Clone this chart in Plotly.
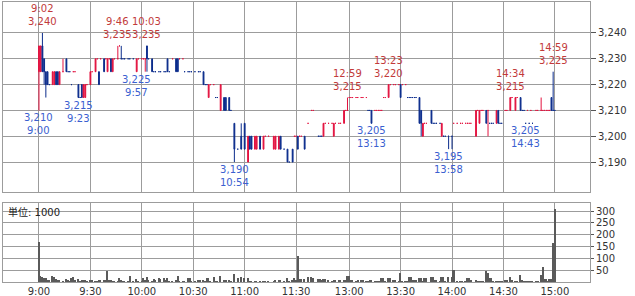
import plotly.graph_objects as go

# ---------------- data (1-minute bars) ----------------
times = [
    "9:00","9:01","9:02","9:03","9:04","9:05","9:06","9:08","9:09","9:10",
    "9:11","9:12","9:14","9:16","9:17","9:18","9:19","9:20","9:21","9:23",
    "9:24","9:25","9:26","9:27","9:28","9:30","9:31","9:33","9:34","9:35",
    "9:36","9:38","9:39","9:40","9:41","9:42","9:43","9:44","9:46","9:47",
    "9:48","9:49","9:50","9:52","9:53","9:55","9:57","9:58","10:00","10:01",
    "10:02","10:03","10:04","10:06","10:07","10:08","10:10","10:11","10:13","10:14",
    "10:15","10:16","10:18","10:20","10:21","10:22","10:24","10:25","10:27","10:28",
    "10:29","10:31","10:33","10:34","10:36","10:37","10:38","10:39","10:40","10:42",
    "10:43","10:44","10:46","10:48","10:49","10:51","10:52","10:54","10:56","10:58",
    "11:00","11:02","11:03","11:04","11:06","11:07","11:09","11:11","11:12","11:14",
    "11:17","11:18","11:20","11:21","11:23","11:25","11:26","11:28","11:29","11:30",
    "12:30","12:31","12:32","12:34","12:36","12:38","12:39","12:42","12:43","12:44",
    "12:45","12:46","12:48","12:50","12:51","12:52","12:54","12:55","12:57","12:58",
    "12:59","13:00","13:01","13:02","13:04","13:05","13:07","13:08","13:10","13:11",
    "13:12","13:13","13:15","13:16","13:17","13:18","13:19","13:20","13:21","13:23",
    "13:24","13:26","13:27","13:29","13:30","13:31","13:33","13:34","13:35","13:36",
    "13:37","13:38","13:39","13:41","13:42","13:43","13:44","13:45","13:48","13:49",
    "13:50","13:51","13:53","13:54","13:55","13:56","13:58","14:00","14:01","14:03",
    "14:05","14:06","14:08","14:09","14:10","14:11","14:14","14:15","14:16","14:17",
    "14:18","14:20","14:21","14:22","14:23","14:24","14:26","14:27","14:28","14:29",
    "14:31","14:32","14:34","14:35","14:37","14:38","14:40","14:41","14:42","14:43",
    "14:44","14:45","14:46","14:47","14:49","14:50","14:52","14:53","14:54","14:55",
    "14:56","14:57","14:58","14:59","15:00",
]
opens = [
    3225,3225,3235,3230,3225,3225,3220,3220,3220,3225,
    3225,3220,3225,3230,3225,3225,3220,3225,3225,3220,
    3215,3220,3215,3215,3220,3220,3225,3225,3230,3225,
    3230,3230,3230,3225,3230,3230,3225,3230,3230,3235,
    3230,3230,3230,3230,3230,3230,3225,3230,3230,3230,
    3230,3235,3230,3230,3225,3225,3225,3225,3225,3225,
    3230,3225,3230,3230,3230,3230,3230,3225,3225,3225,
    3225,3225,3225,3225,3225,3220,3220,3215,3220,3220,
    3215,3215,3210,3215,3215,3215,3210,3205,3195,3200,
    3205,3190,3200,3200,3195,3195,3200,3195,3200,3200,
    3195,3195,3195,3200,3195,3195,3190,3195,3200,3200,
    3200,3200,3200,3200,3205,3210,3210,3200,3200,3200,
    3200,3205,3205,3205,3200,3205,3205,3205,3205,3210,
    3210,3215,3215,3215,3215,3215,3215,3215,3215,3210,
    3210,3210,3210,3210,3210,3210,3210,3215,3215,3215,
    3220,3220,3220,3220,3220,3220,3220,3215,3215,3215,
    3215,3215,3215,3215,3210,3200,3205,3205,3210,3205,
    3205,3205,3205,3200,3200,3200,3200,3200,3205,3205,
    3205,3205,3205,3205,3205,3205,3200,3210,3205,3210,
    3210,3210,3210,3205,3205,3205,3205,3210,3205,3205,
    3210,3210,3210,3215,3210,3215,3215,3210,3210,3205,
    3210,3205,3210,3205,3210,3210,3210,3210,3210,3210,
    3210,3210,3215,3210,3210,
]
highs = [
    3235,3235,3240,3230,3225,3225,3220,3225,3225,3225,
    3225,3225,3230,3230,3225,3225,3220,3225,3225,3220,
    3215,3220,3220,3220,3220,3225,3225,3230,3230,3225,
    3230,3230,3230,3230,3230,3230,3230,3230,3235,3235,
    3235,3230,3230,3230,3230,3230,3230,3230,3230,3230,
    3230,3235,3230,3230,3225,3225,3225,3225,3225,3225,
    3230,3225,3230,3230,3230,3230,3230,3225,3225,3225,
    3225,3225,3225,3225,3225,3220,3220,3220,3220,3220,
    3215,3215,3220,3215,3215,3215,3210,3205,3195,3205,
    3205,3200,3200,3200,3200,3200,3200,3200,3200,3200,
    3200,3200,3200,3200,3195,3195,3190,3195,3200,3200,
    3200,3200,3200,3200,3205,3210,3210,3200,3200,3200,
    3205,3205,3205,3205,3205,3205,3205,3205,3210,3210,
    3215,3215,3215,3215,3215,3215,3215,3215,3215,3210,
    3210,3210,3210,3210,3210,3210,3210,3215,3215,3220,
    3220,3220,3220,3220,3220,3220,3220,3215,3215,3215,
    3215,3215,3215,3215,3210,3205,3205,3205,3210,3205,
    3205,3205,3205,3205,3200,3200,3200,3200,3205,3205,
    3205,3205,3205,3205,3205,3205,3210,3210,3210,3210,
    3210,3210,3210,3205,3205,3205,3210,3210,3205,3205,
    3210,3210,3215,3215,3215,3215,3215,3210,3210,3205,
    3210,3205,3210,3205,3210,3210,3215,3210,3210,3210,
    3210,3210,3215,3225,3210,
]
lows = [
    3210,3225,3225,3220,3215,3220,3220,3220,3220,3220,
    3220,3220,3225,3225,3225,3225,3220,3225,3225,3215,
    3215,3215,3215,3215,3220,3220,3225,3225,3230,3220,
    3230,3225,3230,3225,3230,3225,3225,3230,3230,3235,
    3230,3230,3230,3230,3230,3230,3225,3230,3230,3230,
    3225,3225,3230,3225,3225,3225,3225,3225,3225,3225,
    3225,3225,3230,3225,3225,3230,3230,3225,3225,3225,
    3225,3225,3225,3225,3220,3220,3220,3215,3220,3220,
    3215,3215,3210,3210,3210,3210,3210,3190,3195,3195,
    3195,3190,3195,3195,3195,3195,3195,3195,3200,3200,
    3195,3195,3195,3195,3195,3190,3190,3190,3200,3200,
    3195,3200,3200,3195,3205,3210,3210,3200,3200,3200,
    3200,3205,3205,3205,3200,3205,3205,3205,3205,3210,
    3210,3215,3215,3215,3215,3215,3215,3215,3215,3210,
    3210,3205,3210,3210,3210,3210,3210,3215,3215,3215,
    3220,3220,3220,3220,3215,3220,3220,3215,3215,3215,
    3215,3215,3215,3205,3200,3200,3205,3205,3205,3205,
    3205,3205,3205,3200,3200,3200,3195,3195,3205,3205,
    3205,3205,3205,3205,3205,3205,3200,3210,3205,3210,
    3210,3205,3200,3205,3205,3205,3205,3205,3205,3205,
    3210,3210,3210,3215,3210,3215,3210,3210,3210,3205,
    3210,3205,3210,3205,3210,3210,3210,3210,3210,3210,
    3210,3210,3210,3210,3210,
]
closes = [
    3235,3235,3225,3225,3220,3220,3220,3225,3225,3220,
    3220,3225,3225,3225,3225,3225,3220,3225,3225,3215,
    3215,3215,3220,3220,3220,3225,3225,3230,3230,3220,
    3230,3225,3230,3230,3230,3225,3230,3230,3230,3235,
    3230,3230,3230,3230,3230,3230,3230,3230,3230,3230,
    3230,3230,3230,3225,3225,3225,3225,3225,3225,3225,
    3225,3225,3230,3225,3225,3230,3230,3225,3225,3225,
    3225,3225,3225,3225,3220,3220,3220,3220,3220,3220,
    3215,3215,3220,3210,3210,3210,3210,3195,3195,3195,
    3195,3200,3195,3195,3200,3200,3195,3200,3200,3200,
    3200,3200,3200,3195,3195,3190,3190,3190,3200,3200,
    3195,3200,3200,3195,3205,3210,3210,3200,3200,3200,
    3205,3205,3205,3205,3205,3205,3205,3205,3210,3210,
    3210,3215,3215,3215,3215,3215,3215,3215,3215,3210,
    3210,3205,3210,3210,3210,3210,3210,3215,3215,3220,
    3220,3220,3220,3220,3215,3220,3220,3215,3215,3215,
    3215,3215,3215,3205,3205,3205,3205,3205,3205,3205,
    3205,3205,3205,3205,3200,3200,3200,3200,3205,3205,
    3205,3205,3205,3205,3205,3205,3210,3210,3210,3210,
    3210,3205,3210,3205,3205,3205,3210,3205,3205,3205,
    3210,3210,3215,3215,3215,3215,3210,3210,3210,3205,
    3210,3205,3210,3205,3210,3210,3210,3210,3210,3210,
    3210,3210,3210,3210,3210,
]
volumes = [  # unit: 1000 shares
    170,25,20,18,15,8,5,24,22,12,
    10,8,4,12,10,3,15,20,6,12,
    4,10,8,5,4,5,6,4,3,5,
    6,5,8,48,6,5,4,3,4,17,
    5,4,3,3,27,4,12,4,3,17,
    8,21,5,4,12,8,15,12,15,10,
    17,4,3,5,27,4,3,3,17,17,
    4,3,6,7,7,4,15,15,4,21,
    4,4,27,8,7,6,4,35,18,20,
    18,15,4,3,3,2,2,2,2,2,
    3,6,6,5,3,17,4,5,17,8,
    108,13,13,13,21,21,15,12,12,5,
    12,12,5,4,10,10,10,10,5,5,
    27,27,7,7,4,10,10,10,4,4,
    6,6,3,4,4,3,18,18,4,18,
    18,7,7,4,39,4,4,4,21,21,
    10,10,10,17,17,4,17,17,21,21,
    10,10,3,21,21,3,21,21,52,4,
    4,4,3,17,17,10,10,4,3,3,
    3,46,39,17,17,4,4,4,3,3,
    7,7,21,7,4,3,29,10,4,4,
    3,3,3,4,4,4,31,63,13,13,
    4,13,13,164,307,
]

# high / low callouts
high_times = ["9:02", "9:46", "10:03", "12:59", "13:23", "14:34", "14:59"]
high_prices = [3240, 3235, 3235, 3215, 3220, 3215, 3225]
low_times = ["9:00", "9:23", "9:57", "10:54", "13:13", "13:58", "14:43"]
low_prices = [3210, 3215, 3225, 3190, 3205, 3195, 3205]

tick_times = ["9:00", "9:30", "10:00", "10:30", "11:00", "11:30",
              "13:00", "13:30", "14:00", "14:30", "15:00"]
price_ticks = [3190, 3200, 3210, 3220, 3230, 3240]
volume_ticks = [50, 100, 150, 200, 250, 300]
volume_unit = "単位: 1000"

# ---------------- helpers ----------------
def pos(t):
    h, m = t.split(":")
    mins = int(h) * 60 + int(m) - 540
    return mins if mins <= 150 else mins - 59   # lunch break removed


x = [pos(t) for t in times]

RED = "#e3123f"
BLUE = "#0b2c8c"
RED_TXT = "#c23a3a"
BLUE_TXT = "#3a60d0"
GRID = "#9c9c9c"
FONT = "DejaVu Sans, Noto Sans CJK JP, sans-serif"

fig = go.Figure()
fig.add_trace(go.Candlestick(
    x=x, open=opens, high=highs, low=lows, close=closes,
    xaxis="x", yaxis="y",
    increasing=dict(line=dict(color=RED, width=1), fillcolor=RED),
    decreasing=dict(line=dict(color=BLUE, width=1), fillcolor=BLUE),
    whiskerwidth=0, showlegend=False, hoverinfo="skip",
))
fig.add_trace(go.Bar(
    x=x, y=volumes, xaxis="x2", yaxis="y2", width=0.9,
    marker=dict(color="#5a5a5a", line=dict(width=0)),
    showlegend=False, hoverinfo="skip",
))

annotations = []
for t, p in zip(high_times, high_prices):
    annotations.append(dict(
        x=pos(t), y=p, xref="x", yref="y", text=f"{t}<br>{p:,}",
        showarrow=False, xanchor="center", yanchor="bottom", yshift=4,
        font=dict(color=RED_TXT, size=10, family=FONT),
    ))
for t, p in zip(low_times, low_prices):
    annotations.append(dict(
        x=pos(t), y=p, xref="x", yref="y", text=f"{p:,}<br>{t}",
        showarrow=False, xanchor="center", yanchor="top", yshift=0,
        font=dict(color=BLUE_TXT, size=10, family=FONT),
    ))
annotations.append(dict(
    x=0.005, y=1, xref="x2 domain", yref="y2 domain", text=volume_unit,
    showarrow=False, xanchor="left", yanchor="top", yshift=-1,
    font=dict(color="#222", size=10, family=FONT),
))

grid_pos = [pos(t) for t in tick_times]
xr = [-21, 321.5]
axis_common = dict(showgrid=True, gridcolor=GRID, gridwidth=1, showline=True,
                   mirror=True, linecolor=GRID, linewidth=1, zeroline=False,
                   automargin=False, fixedrange=True)

fig.update_layout(
    template="none",
    width=635, height=296,
    margin=dict(l=3, r=45, t=2, b=14),
    paper_bgcolor="white", plot_bgcolor="white",
    font=dict(family=FONT, size=10, color="#333"),
    showlegend=False,
    bargap=0,
    xaxis=dict(domain=[0, 1], range=xr, anchor="y", tickvals=grid_pos,
               showticklabels=False, ticks="", rangeslider=dict(visible=False),
               **axis_common),
    yaxis=dict(domain=[0.3214, 1], range=[3178.4, 3252], anchor="x",
               side="right", tickvals=price_ticks,
               ticktext=[f"{v:,}" for v in price_ticks],
               ticks="outside", ticklen=5, tickcolor="#555",
               **axis_common),
    xaxis2=dict(domain=[0, 1], range=xr, anchor="y2", tickvals=grid_pos,
                ticktext=tick_times, ticks="", **axis_common),
    yaxis2=dict(domain=[0, 0.282], range=[0, 334], anchor="x2",
                side="right", tickvals=volume_ticks, ticks="outside",
                ticklen=3, tickcolor="#555", **axis_common),
    annotations=annotations,
)

fig.write_html("out.html")
